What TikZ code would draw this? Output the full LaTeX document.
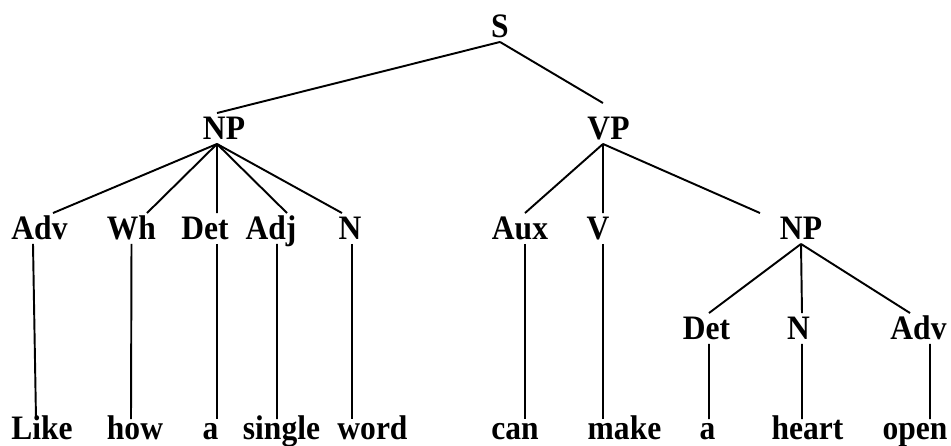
\documentclass[tikz,border=0pt]{standalone}
\usepackage{fontspec}
\setmainfont[FakeStretch=0.92]{Liberation Serif}
\usepackage{tikz}

\begin{document}
\begin{tikzpicture}[every node/.style={font=\bfseries\fontsize{19.5}{22}\selectfont, inner sep=0pt, inner ysep=0.06cm, text height=0.46cm, text depth=0pt, anchor=base},
                    leaf/.style={inner ysep=0pt, text height=0.4cm},
                    line width=1.1pt]
              \useasboundingbox (0,0) rectangle (19.02,8.92);
              % Nodos
              \node (s) at (10.00,8.16) {S};
              \node (np) at (4.48,6.12) {NP};
              \node (vp) at (12.17,6.12) {VP};
              \node (adv) at (0.79,4.12) {Adv};
              \node (wh) at (2.63,4.12) {Wh};
              \node (det) at (4.10,4.12) {Det};
              \node (adj) at (5.42,4.12) {Adj};
              \node (n) at (7.00,4.12) {N};
              \node (aux) at (10.40,4.12) {Aux};
              \node (v) at (11.96,4.12) {V};
              \node (np2) at (16.02,4.12) {NP};
              \node (det2) at (14.13,2.12) {Det};
              \node (n2) at (15.97,2.12) {N};
              \node (adv2) at (18.37,2.12) {Adv};
              
              % Palabras
              \node[leaf] (like) at (0.84,0.12) {Like};
              \node[leaf] (how) at (2.70,0.12) {how};
              \node[leaf] (a) at (4.21,0.12) {a};
              \node[leaf] (single) at (5.63,0.12) {single};
              \node[leaf] (word) at (7.45,0.12) {word};
              \node[leaf] (can) at (10.30,0.12) {can};
              \node[leaf] (make) at (12.49,0.12) {make};
              \node[leaf] (a2) at (14.15,0.12) {a};
              \node[leaf] (heart) at (16.15,0.12) {heart};
              \node[leaf] (open) at (18.30,0.12) {open};
              
              % Ramas
              \draw (s.south) -- ([xshift=-0.14cm]np.north);
              \draw (s.south) -- ([xshift=-0.11cm,yshift=0.2cm]vp.north);
              \draw ([xshift=-0.14cm]np.south) -- ([xshift=0.27cm]adv.north);
              \draw ([xshift=-0.14cm]np.south) -- ([xshift=0.31cm]wh.north);
              \draw ([xshift=-0.14cm]np.south) -- ([xshift=0.24cm]det.north);
              \draw ([xshift=-0.14cm]np.south) -- ([xshift=0.32cm]adj.north);
              \draw ([xshift=-0.14cm]np.south) -- ([xshift=-0.16cm]n.north);
              \draw ([xshift=-0.11cm]vp.south) -- ([xshift=0.1cm]aux.north);
              \draw ([xshift=-0.11cm]vp.south) -- ([xshift=0.1cm]v.north);
              \draw ([xshift=-0.11cm]vp.south) -- ([xshift=-0.82cm]np2.north);
              \draw (np2.south) -- ([xshift=0.05cm]det2.north);
              \draw (np2.south) -- ([xshift=0.07cm]n2.north);
              \draw (np2.south) -- ([xshift=-0.17cm]adv2.north);
              
              \draw ([xshift=-0.13cm]adv.south) -- ([xshift=-0.12cm]like.north);
              \draw (wh.south) -- ([xshift=-0.08cm]how.north);
              \draw ([xshift=0.24cm]det.south) -- ([xshift=0.13cm]a.north);
              \draw ([xshift=0.12cm]adj.south) -- ([xshift=-0.09cm]single.north);
              \draw ([xshift=0.04cm]n.south) -- ([xshift=-0.41cm]word.north);
              \draw ([xshift=0.1cm]aux.south) -- ([xshift=0.2cm]can.north);
              \draw ([xshift=0.1cm]v.south) -- ([xshift=-0.43cm]make.north);
              \draw ([xshift=0.05cm]det2.south) -- ([xshift=0.03cm]a2.north);
              \draw ([xshift=0.07cm]n2.south) -- ([xshift=-0.11cm]heart.north);
              \draw ([xshift=0.23cm]adv2.south) -- ([xshift=0.3cm]open.north);
            \end{tikzpicture}
\end{document}
